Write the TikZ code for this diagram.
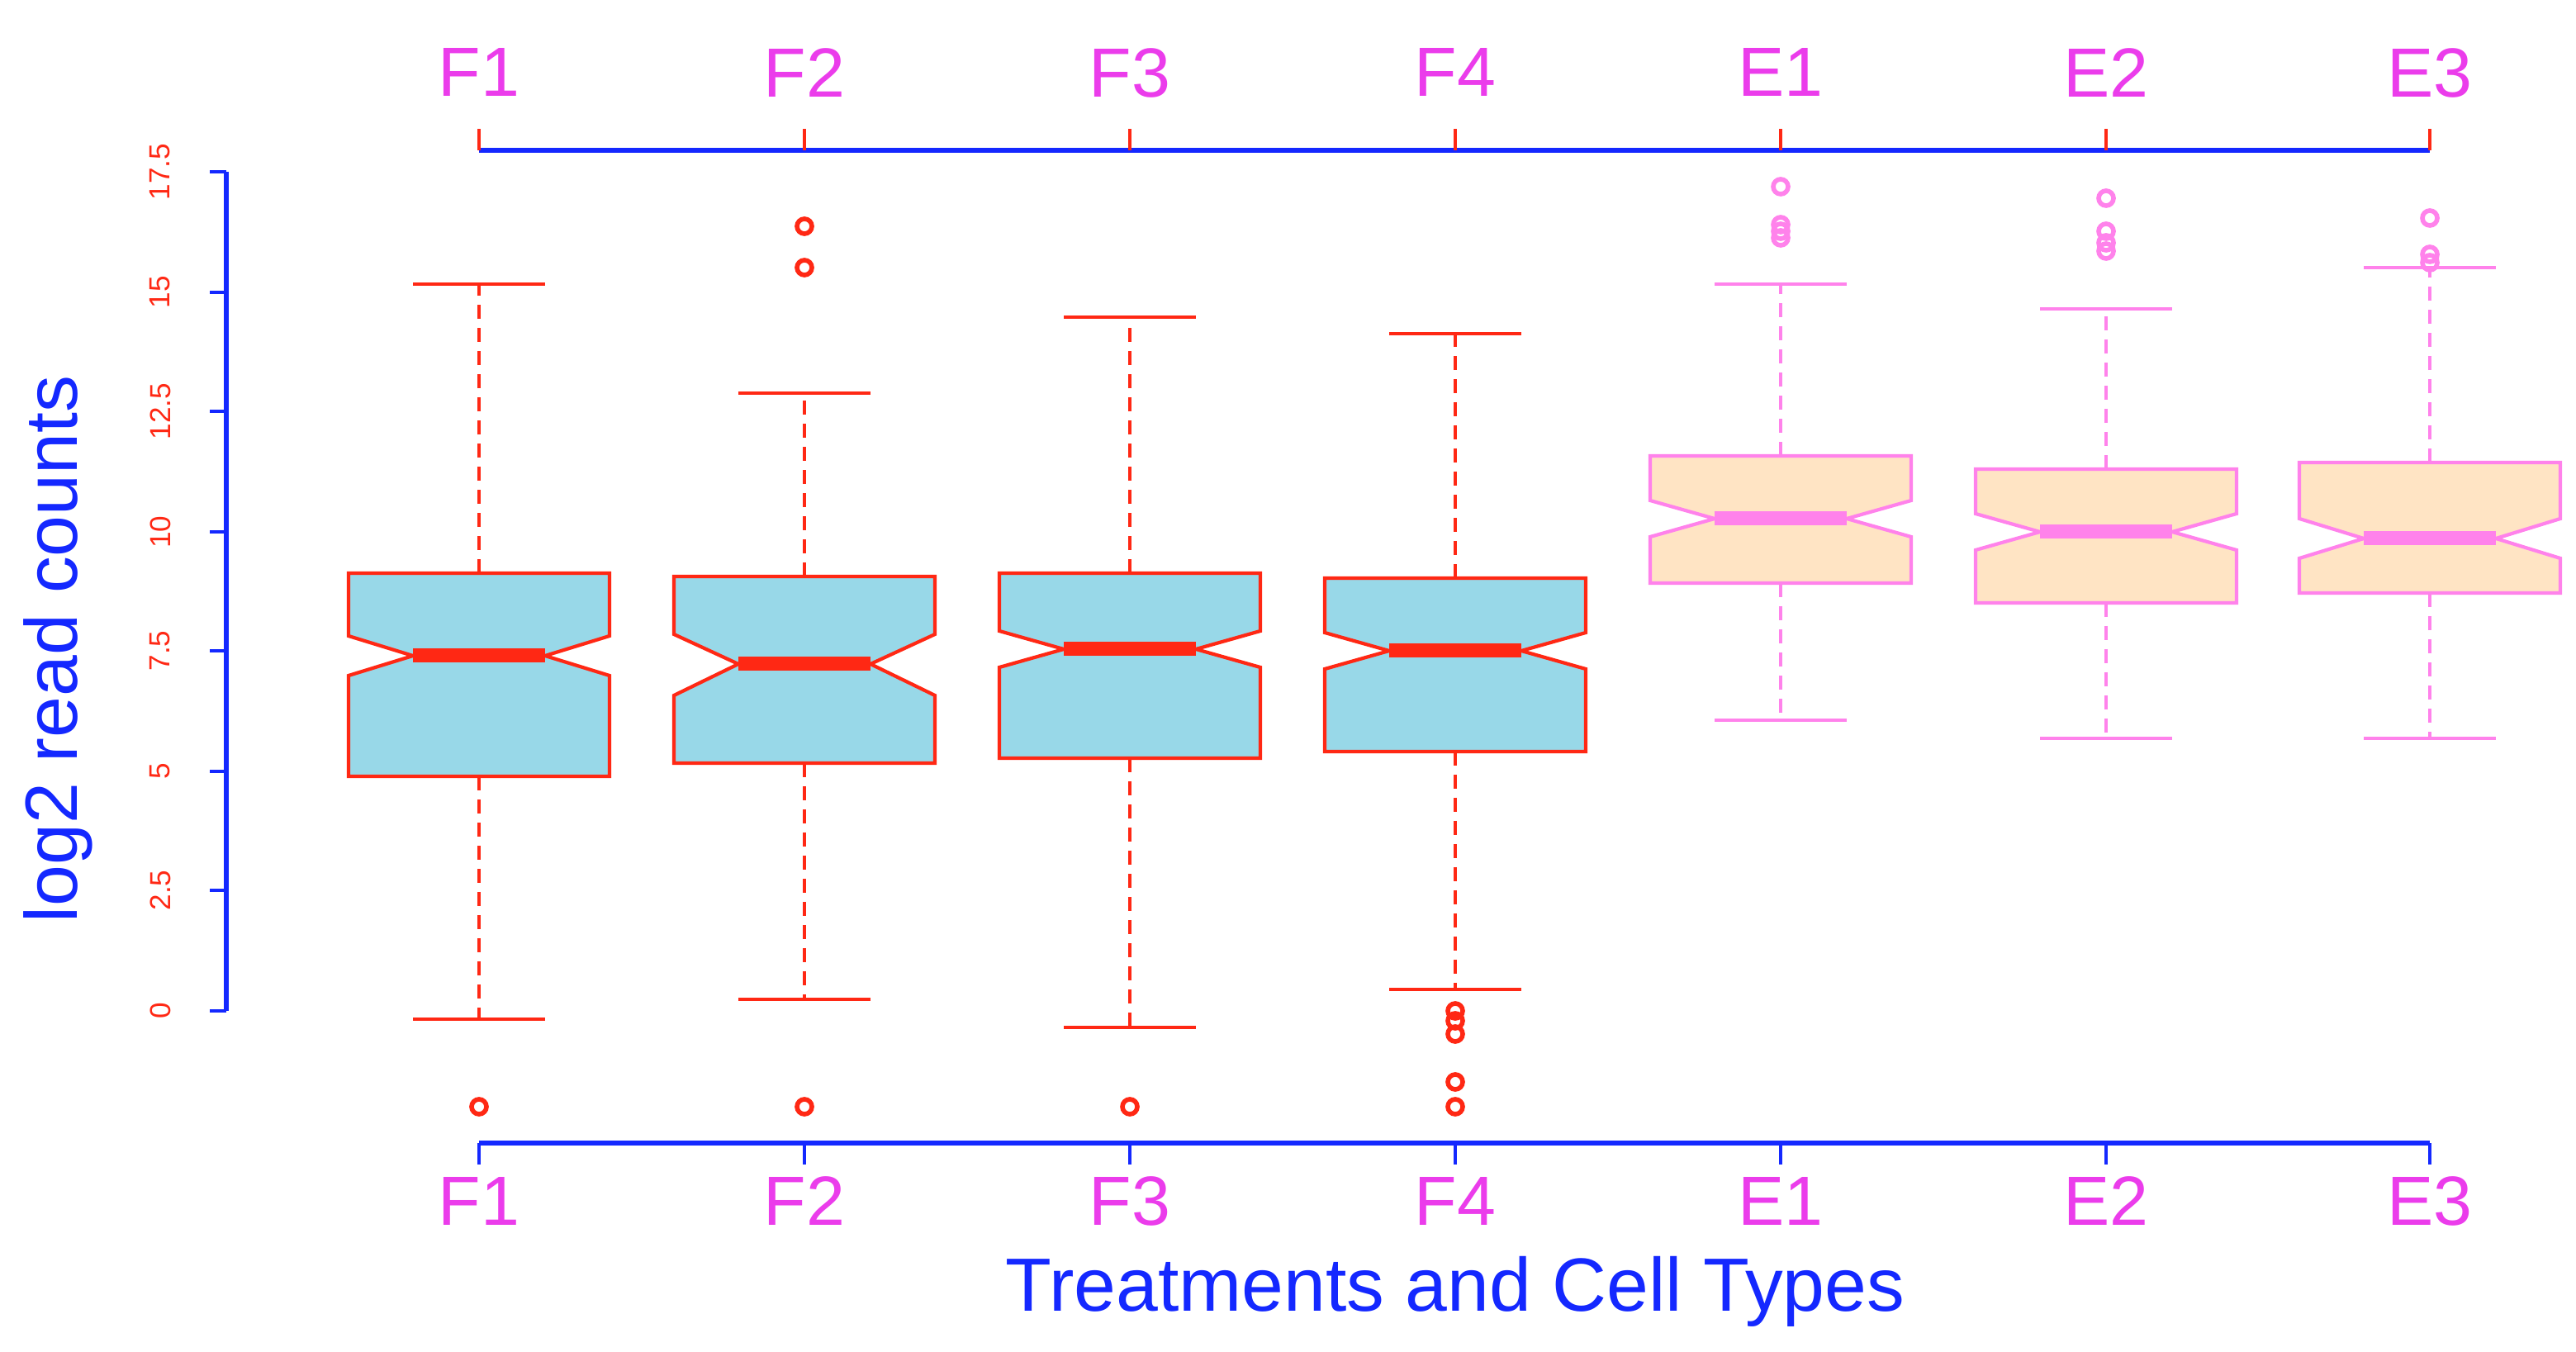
\documentclass[tikz,border=0pt]{standalone}
\usepackage{fontspec}
\setmainfont{Liberation Sans}
\definecolor{rd}{RGB}{255,40,20}
\definecolor{pk}{RGB}{255,130,235}
\definecolor{bf}{RGB}{152,216,232}
\definecolor{pf}{RGB}{255,228,196}
\definecolor{mg}{RGB}{235,60,235}
\definecolor{bl}{RGB}{20,40,255}
\tikzset{Fb/.style={draw=rd,fill=bf},Eb/.style={draw=pk,fill=pf},
 Fl/.style={rd},El/.style={pk},
 lab/.style={text=mg,font=\fontsize{24}{24}\selectfont},
 tk/.style={text=rd,font=\fontsize{10}{10}\selectfont,rotate=90}}
\newcommand\bplot[9][F]{%
 \draw[#1l,line width=1.2pt,dash pattern=on 0.17cm off 0.11cm] (#2,#4)--(#2,#3) (#2,#8)--(#2,#9);
 \draw[#1l,line width=1.2pt] (#2-40,#3)--(#2+40,#3) (#2-40,#9)--(#2+40,#9);
 \draw[#1b,line width=1.2pt] (#2-79,#4)--(#2+79,#4)--(#2+79,#5)--(#2+40,#6)--(#2+79,#7)--(#2+79,#8)--(#2-79,#8)--(#2-79,#7)--(#2-40,#6)--(#2-79,#5)--cycle;
 \draw[#1l,line width=1.7mm] (#2-40,#6)--(#2+40,#6);}
\newcommand\outl[2]{\draw[line width=1.6pt] (#1,#2) circle (4.5);}
\begin{document}
\begin{tikzpicture}[x=0.02cm,y=-0.02cm]
\useasboundingbox (0,0) rectangle (1559.5,818.5);
% y axis
\draw[bl,line width=1.8pt] (137,104)--(137,612);
\foreach \v/\y in {0/612,2.5/539,5/467,7.5/394,10/322,12.5/249,15/177,17.5/104}{
 \draw[bl,line width=1.2pt] (137,\y)--(127,\y);
 \node[tk] (t\y) at (97,\y) {\v};}
\node[rotate=90,text=bl,font=\fontsize{25.5}{25.5}\selectfont] (ylab) at (35,393) {log2 read counts};
% top & bottom axes
\draw[bl,line width=1.8pt] (290,91)--(1471,91);
\draw[bl,line width=1.8pt] (290,692)--(1471,692);
\foreach \n/\x in {F1/290,F2/487,F3/684,F4/881,E1/1078,E2/1275,E3/1471}{
 \draw[rd,line width=1.2pt] (\x,91)--(\x,78);
 \draw[bl,line width=1.2pt] (\x,692)--(\x,705);
 \node[lab] (top\n) at (\x,44) {\n};
 \node[lab] (bot\n) at (\x,727) {\n};}
\node[text=bl,font=\fontsize{26}{26}\selectfont] (title) at (881,782) {Treatments and Cell Types};
% boxes
\bplot{290}{172}{347}{385}{397}{409}{470}{617}
\bplot{487}{238}{349}{384}{402}{421}{462}{605}
\bplot{684}{192}{347}{382}{393}{404}{459}{622}
\bplot{881}{202}{350}{383}{394}{405}{455}{599}
\bplot[E]{1078}{172}{276}{303}{314}{325}{353}{436}
\bplot[E]{1275}{187}{284}{311}{322}{333}{365}{447}
\bplot[E]{1471}{162}{280}{314}{326}{338}{359}{447}
\begin{scope}[rd]
\foreach \x/\y in {290/670,487/670,487/137,487/162,684/670,881/612,881/618,881/626,881/655,881/670}{\outl{\x}{\y}}
\end{scope}
\begin{scope}[pk]
\foreach \x/\y in {1078/113,1078/136,1078/140,1078/144,1275/120,1275/140,1275/147,1275/152,1471/132,1471/154,1471/159}{\outl{\x}{\y}}
\end{scope}
\end{tikzpicture}
\end{document}
